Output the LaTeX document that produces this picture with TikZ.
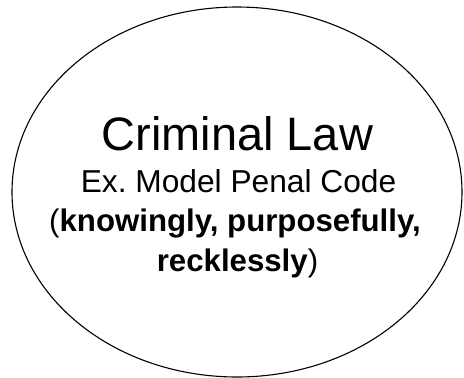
\documentclass[tikz,border=0pt]{standalone}
\usepackage{fontspec}
\setmainfont{Liberation Sans}
\usepackage{tikz}
\usetikzlibrary{shapes.geometric}

\begin{document}
\begin{tikzpicture}[x=1pt, y=-1pt, every node/.style={inner sep=0pt, anchor=base}]
\useasboundingbox (0,0) rectangle (464,378);
\node[draw, ellipse, line width=1.1pt, minimum width=450pt, minimum height=370pt, anchor=center] (law) at (237,192) {};
\node (title) at (237.5,150) {\fontsize{46.9}{56}\selectfont Criminal Law};
\node (example) at (238.5,192.5) {\fontsize{31.7}{38}\selectfont Ex.\ Model Penal Code};
\node (mens) at (235,231.5) {\fontsize{31.2}{38}\selectfont (\textbf{knowingly, purposefully,}};
\node (mens2) at (237.5,271) {\fontsize{31.2}{38}\selectfont \textbf{recklessly})};
\end{tikzpicture}
\end{document}
